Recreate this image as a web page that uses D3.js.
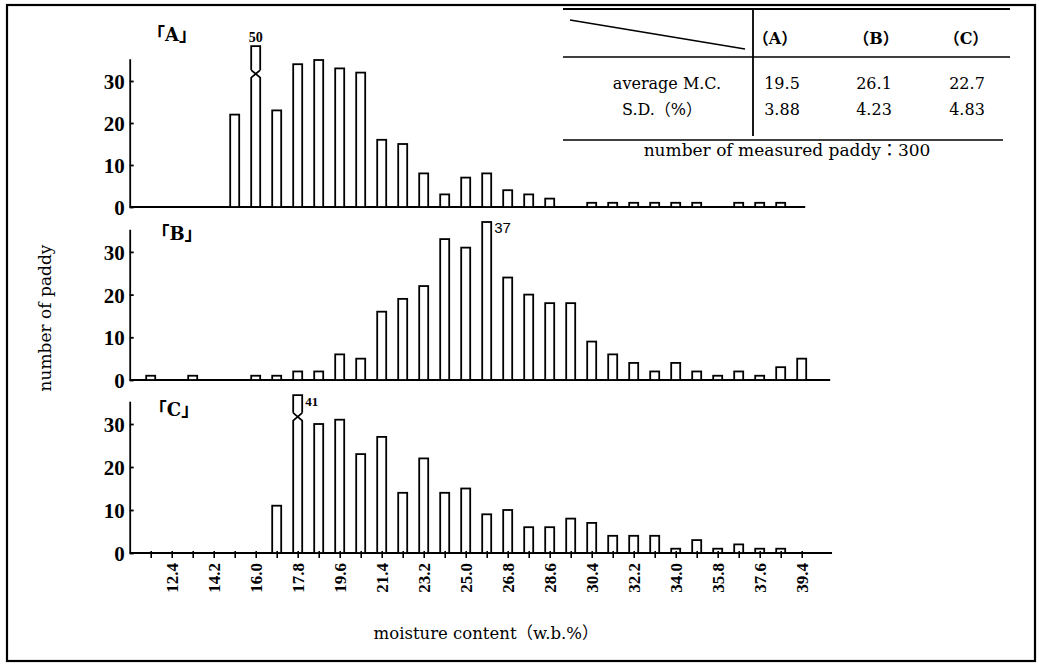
<!DOCTYPE html>
<html><head><meta charset="utf-8">
<script src="https://cdn.jsdelivr.net/npm/d3@7"></script>
<style>body{margin:0;background:#fff}</style>
</head><body>
<svg id="c" width="1039" height="664"></svg>
<script>
// ---------- DATA ----------
const bins = [11.5,12.4,13.3,14.2,15.1,16.0,16.9,17.8,18.7,19.6,20.5,21.4,22.3,23.2,24.1,25.0,
              25.9,26.8,27.7,28.6,29.5,30.4,31.3,32.2,33.1,34.0,34.9,35.8,36.7,37.6,38.5,39.4];
const seriesA = [0,0,0,0,22,50,23,34,35,33,32,16,15,8,3,7,8,4,3,2,0,1,1,1,1,1,1,0,1,1,1,0];
const seriesB = [1,0,1,0,0,1,1,2,2,6,5,16,19,22,33,31,37,24,20,18,18,9,6,4,2,4,2,1,2,1,3,5];
const seriesC = [0,0,0,0,0,0,11,41,30,31,23,27,14,22,14,15,9,10,6,6,8,7,4,4,4,1,3,1,2,1,1,0];
const panelNames = ["「A」","「B」","「C」"];
const xTickLabels = [12.4,14.2,16.0,17.8,19.6,21.4,23.2,25.0,26.8,28.6,30.4,32.2,34.0,35.8,37.6,39.4];
const yTicks = [0,10,20,30];
const tableCols = ["（A）","（B）","（C）"];
const tableRowLabels = ["average M.C.","S.D.（%）"];
const avgMC = ["19.5","26.1","22.7"];
const sdPct = ["3.88","4.23","4.83"];
const tableNote = "number of measured paddy：300";
const yTitle = "number of paddy";
const xTitle = "moisture content（w.b.%）";

// ---------- LAYOUT ----------
const svg = d3.select("#c");
const serif = "'DejaVu Serif', 'Noto Sans CJK JP', serif";
const tickFont = "'Liberation Serif', serif";
const x = d3.scaleLinear().domain([12.4, 39.4]).range([171.7, 801.7]);
const bw = 9;
const panels = [
  {data: seriesA, base: 207, ppu: 4.2,  xEnd: 39.55, label: [172, 41], brokenTop: 38.3, peakPos: "above"},
  {data: seriesB, base: 380, ppu: 4.27, xEnd: 40.62, label: [177, 240], brokenTop: 38.3, peakPos: "right"},
  {data: seriesC, base: 553, ppu: 4.3,  xEnd: 40.7,  label: [174, 416], brokenTop: 36.7, peakPos: "right"}
];
const xStart = 10.6, yTop = 35.3, capVal = 38, breakLo = 30.8, breakHi = 32.6;

// frame
svg.append("rect").attr("x",7).attr("y",5).attr("width",1028).attr("height",656)
  .attr("fill","none").attr("stroke","#000").attr("stroke-width",2.2);

panels.forEach((p, pi) => {
  const y = d3.scaleLinear().domain([0, yTop]).range([p.base, p.base - yTop * p.ppu]);
  const g = svg.append("g");

  // y axis
  const ya = g.append("g").attr("transform", `translate(${x(xStart)},0)`)
    .call(d3.axisLeft(y).tickValues(yTicks).tickSizeInner(-4).tickSizeOuter(0).tickPadding(5));
  ya.selectAll("path,line").attr("stroke","#000").attr("stroke-width",1.8);
  ya.selectAll("text").attr("font-family", tickFont).attr("font-weight","bold")
    .attr("font-size", 21).attr("fill","#000").attr("dy","0.36em");

  // baseline
  g.append("line").attr("x1", x(xStart)).attr("x2", x(p.xEnd))
    .attr("y1", y(0)).attr("y2", y(0)).attr("stroke","#000").attr("stroke-width",1.8);

  // bars
  let peak = 0;
  p.data.forEach((v, i) => { if (v > p.data[peak]) peak = i; });
  p.data.forEach((v, i) => {
    if (v <= 0) return;
    const x0 = x(bins[i]) - bw / 2, x1 = x(bins[i]) + bw / 2;
    if (v <= capVal) {
      g.append("rect").attr("x", x0).attr("y", y(v)).attr("width", bw).attr("height", y(0) - y(v))
        .attr("fill","#fff").attr("stroke","#000").attr("stroke-width",1.8);
    } else {
      const top = p.brokenTop;
      const d = `M${x0},${y(0)}V${y(breakLo)}L${x1},${y(breakHi)}` +
                `M${x1},${y(0)}V${y(breakLo)}L${x0},${y(breakHi)}` +
                `M${x0},${y(breakHi)}V${y(top)}H${x1}V${y(breakHi)}`;
      g.append("path").attr("d", d).attr("fill","none").attr("stroke","#000").attr("stroke-width",1.8);
    }
  });
  // peak label
  const pv = p.data[peak];
  const topV = pv > capVal ? p.brokenTop : pv;
  if (p.peakPos === "above") {
    g.append("text").attr("x", x(bins[peak])).attr("y", y(topV) - 4).attr("text-anchor","middle")
      .attr("font-family", tickFont).attr("font-weight","bold").attr("font-size",14).text(pv);
  } else {
    g.append("text").attr("x", x(bins[peak]) + bw / 2 + 3).attr("y", y(topV) + 11)
      .attr("font-family", pi === 1 ? "'Liberation Sans', sans-serif" : tickFont)
      .attr("font-weight", pi === 1 ? "normal" : "bold").attr("font-size", pi === 1 ? 15 : 13).text(pv);
  }

  // panel name
  g.append("text").attr("x", p.label[0]).attr("y", p.label[1]).attr("text-anchor","middle")
    .attr("font-family", serif).attr("font-weight","bold").attr("font-size",18).text(panelNames[pi]);

  // x axis on last panel
  if (pi === 2) {
    const xa = g.append("g").attr("transform", `translate(0,${y(0)})`)
      .call(d3.axisBottom(x).tickValues(bins).tickSizeInner(5).tickSizeOuter(0).tickPadding(7)
        .tickFormat(d => xTickLabels.some(t => Math.abs(t - d) < 1e-6) ? d3.format(".1f")(d) : ""));
    xa.select(".domain").remove();
    xa.selectAll("line").attr("stroke","#000").attr("stroke-width",1.6).attr("y1",-2);
    xa.selectAll("text").attr("font-family", tickFont).attr("font-weight","bold").attr("font-size",17)
      .attr("fill","#000").attr("text-anchor","end").attr("dy","0.35em")
      .attr("transform","rotate(-90)").attr("x",-10).attr("y",0);
  }
});

// axis titles
svg.append("text").attr("transform","translate(51,318) rotate(-90)").attr("text-anchor","middle")
  .attr("font-family", serif).attr("font-size",17).attr("fill","#000").text(yTitle);
svg.append("text").attr("x",486).attr("y",639).attr("text-anchor","middle")
  .attr("font-family", serif).attr("font-size",16.5).text(xTitle);

// ---------- TABLE ----------
const tg = svg.append("g").attr("stroke","#000");
const hl = (x1, x2, yy, w) => tg.append("line").attr("x1",x1).attr("x2",x2).attr("y1",yy).attr("y2",yy).attr("stroke-width",w);
hl(563, 1010, 9, 1.8);
hl(563, 1010, 57, 1.6);
hl(563, 1003, 140, 1.6);
tg.append("line").attr("x1",753).attr("x2",753).attr("y1",8).attr("y2",136).attr("stroke-width",1.8);
tg.append("line").attr("x1",570).attr("y1",20).attr("x2",745).attr("y2",49).attr("stroke-width",1.4);

const colX = [775, 876, 966];
const valX = [782, 874, 967];
tableCols.forEach((c, i) => svg.append("text").attr("x", colX[i]).attr("y", 44).attr("text-anchor","middle")
  .attr("font-family", serif).attr("font-weight","bold").attr("font-size",16).text(c));
svg.append("text").attr("x",667).attr("y",89).attr("text-anchor","middle")
  .attr("font-family", serif).attr("font-size",16).text(tableRowLabels[0]);
svg.append("text").attr("x",662).attr("y",115).attr("text-anchor","middle")
  .attr("font-family", serif).attr("font-size",16).text(tableRowLabels[1]);
avgMC.forEach((v, i) => svg.append("text").attr("x", valX[i]).attr("y", 89).attr("text-anchor","middle")
  .attr("font-family", serif).attr("font-size",16).text(v));
sdPct.forEach((v, i) => svg.append("text").attr("x", valX[i]).attr("y", 115).attr("text-anchor","middle")
  .attr("font-family", serif).attr("font-size",16).text(v));
svg.append("text").attr("x",787).attr("y",156).attr("text-anchor","middle")
  .attr("font-family", serif).attr("font-size",17).text(tableNote);
</script>
</body></html>
